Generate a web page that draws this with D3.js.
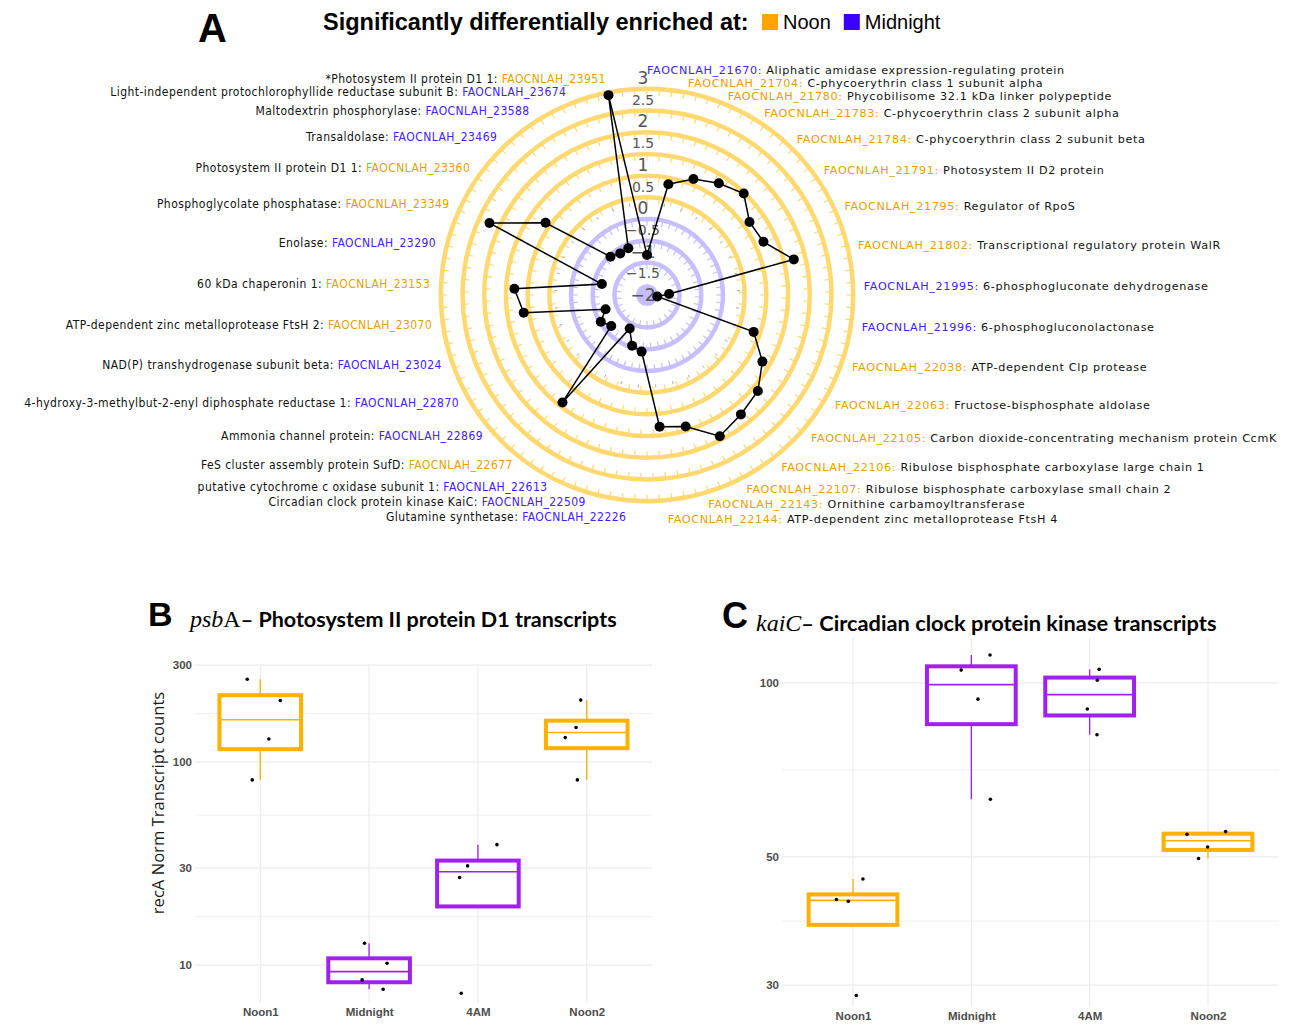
<!DOCTYPE html>
<html>
<head>
<meta charset="utf-8">
<script src="https://cdn.jsdelivr.net/npm/d3@7"></script>
<style>
  body { margin: 0; background: #fff; }
</style>
</head>
<body>
<div id="chart"></div>
<script>
// ---------------- data: panel A (radar) ----------------
const geneIds = ["FAOCNLAH_21670","FAOCNLAH_21704","FAOCNLAH_21780","FAOCNLAH_21783","FAOCNLAH_21784",
  "FAOCNLAH_21791","FAOCNLAH_21795","FAOCNLAH_21802","FAOCNLAH_21995","FAOCNLAH_21996","FAOCNLAH_22038",
  "FAOCNLAH_22063","FAOCNLAH_22105","FAOCNLAH_22106","FAOCNLAH_22107","FAOCNLAH_22143","FAOCNLAH_22144",
  "FAOCNLAH_22226","FAOCNLAH_22509","FAOCNLAH_22613","FAOCNLAH_22677","FAOCNLAH_22869","FAOCNLAH_22870",
  "FAOCNLAH_23024","FAOCNLAH_23070","FAOCNLAH_23153","FAOCNLAH_23290","FAOCNLAH_23349","FAOCNLAH_23360",
  "FAOCNLAH_23469","FAOCNLAH_23588","FAOCNLAH_23674","FAOCNLAH_23951"];
const geneNames = ["Aliphatic amidase expression-regulating protein","C-phycoerythrin class 1 subunit alpha",
  "Phycobilisome 32.1 kDa linker polypeptide","C-phycoerythrin class 2 subunit alpha",
  "C-phycoerythrin class 2 subunit beta","Photosystem II D2 protein","Regulator of RpoS",
  "Transcriptional regulatory protein WalR","6-phosphogluconate dehydrogenase","6-phosphogluconolactonase",
  "ATP-dependent Clp protease","Fructose-bisphosphate aldolase","Carbon dioxide-concentrating mechanism protein CcmK",
  "Ribulose bisphosphate carboxylase large chain 1","Ribulose bisphosphate carboxylase small chain 2",
  "Ornithine carbamoyltransferase","ATP-dependent zinc metalloprotease FtsH 4","Glutamine synthetase",
  "Circadian clock protein kinase KaiC","putative cytochrome c oxidase subunit 1","FeS cluster assembly protein SufD",
  "Ammonia channel protein","4-hydroxy-3-methylbut-2-enyl diphosphate reductase 1","NAD(P) transhydrogenase subunit beta",
  "ATP-dependent zinc metalloprotease FtsH 2","60 kDa chaperonin 1","Enolase","Phosphoglycolate phosphatase",
  "Photosystem II protein D1 1","Transaldolase","Maltodextrin phosphorylase",
  "Light-independent protochlorophyllide reductase subunit B","*Photosystem II protein D1 1"];
const enrichedAt = ["Midnight","Noon","Noon","Noon","Noon","Noon","Noon","Noon","Midnight","Midnight","Noon",
  "Noon","Noon","Noon","Noon","Noon","Noon","Midnight","Midnight","Midnight","Noon","Midnight","Midnight",
  "Midnight","Noon","Noon","Midnight","Noon","Noon","Midnight","Midnight","Midnight","Noon"];
const logChange = [-1.08,0.60,0.88,1.06,1.23,0.90,0.95,1.48,-1.49,-1.76,0.60,1.07,1.38,1.50,1.66,1.16,1.05,
  -0.69,-0.78,-1.13,1.15,-0.91,-0.77,-0.99,0.87,1.06,-0.93,1.99,0.87,-0.78,-0.86,-0.84,2.69];
const radialTicks = [-2,-1.5,-1,-0.5,0,0.5,1,1.5,2,2.5,3];
const ringLevels = [-1.75,-1.25,-0.75,-0.25,0.25,0.75,1.25,1.75,2.25,2.75];
const legendKeys = ["Noon","Midnight"];

// ---------------- data: panels B and C (boxplots) ----------------
const timepoints = ["Noon1","Midnight","4AM","Noon2"];
const phaseOf = ["Noon","Midnight","Midnight","Noon"];
const psbaCounts = [[256,201,130,81.7],[12.8,10.2,8.45,7.6],[39.2,30.8,27,7.26],[202,148,132,81.7]];
const psbaJitter = [[-0.12,0.184,0.079,-0.074],[-0.042,0.165,-0.064,0.129],[0.175,-0.095,-0.168,-0.153],[-0.055,-0.098,-0.197,-0.086]];
const psbaTicks = [10,30,100,300];
const kaicCounts = [[45.8,42.2,41.9,28.8],[111.7,105.2,93.7,62.9],[105.5,101,90.1,81.3],[55.3,54.7,52,49.7]];
const kaicJitter = [[0.084,-0.14,-0.04,0.028],[0.158,-0.086,0.056,0.161],[0.08,0.065,-0.02,0.062],[0.149,-0.177,-0.003,-0.08]];
const kaicTicks = [30,50,100];

// colours
const labelColor = { Noon: "#E69F00", Midnight: "#4120FF" };
const legendColor = { Noon: "#FFA500", Midnight: "#3A00FF" };
const ringColor = { Noon: "#FFD870", Midnight: "#C6BEFF" };
const boxColor = { Noon: "#FFB000", Midnight: "#A020F0" };

const svg = d3.select("#chart").append("svg")
  .attr("width", 1296).attr("height", 1024)
  .style("background", "#fff");

// ---------------- header ----------------
svg.append("text").attr("x", 198).attr("y", 42)
  .style("font-family", "Liberation Sans, Arial, sans-serif").style("font-weight", "bold")
  .style("font-size", "40px").text("A");

svg.append("text").attr("x", 323).attr("y", 30)
  .style("font-family", "'Liberation Sans Narrow', 'Liberation Sans', sans-serif").style("font-weight", "bold")
  .style("font-size", "23.5px").text("Significantly differentially enriched at:");

let lx = 762;
legendKeys.forEach(k => {
  svg.append("rect").attr("x", lx).attr("y", 14).attr("width", 16).attr("height", 16)
    .attr("fill", legendColor[k]);
  const t = svg.append("text").attr("x", lx + 21).attr("y", 29)
    .style("font-family", "'Liberation Sans Narrow', 'Liberation Sans', sans-serif")
    .style("font-size", "20px").text(k);
  lx += 21 + t.node().getComputedTextLength() + 13;
});

// ---------------- panel A: radar ----------------
const cx = 647, cy = 295;
const n = geneIds.length;
const step = 2 * Math.PI / n;
const rScale = d3.scaleLinear().domain([-2, 3]).range([0, 217]);
const radar = svg.append("g").attr("transform", `translate(${cx},${cy})`);

// inner disk and rings
radar.append("circle").attr("r", rScale(ringLevels[0])).attr("fill", ringColor.Midnight);
ringLevels.slice(1).forEach(v => {
  const col = v < 0 ? ringColor.Midnight : ringColor.Noon;
  const r = rScale(v);
  radar.append("circle").attr("r", r).attr("fill", "none")
    .attr("stroke", col).attr("stroke-width", 4.5);
  const k = Math.round(2 * Math.PI * r / (v < 0 ? 8 : 12.5));
  radar.append("g").selectAll("line").data(d3.range(k)).join("line")
    .attr("x1", d => r * Math.sin(d * 2 * Math.PI / k))
    .attr("y1", d => -r * Math.cos(d * 2 * Math.PI / k))
    .attr("x2", d => (r - 6.5) * Math.sin(d * 2 * Math.PI / k))
    .attr("y2", d => -(r - 6.5) * Math.cos(d * 2 * Math.PI / k))
    .attr("stroke", col).attr("stroke-width", 1.2);
});

// small grey marks at zero level
radar.append("g").selectAll("line").data(d3.range(n)).join("line")
  .attr("x1", i => (rScale(0) + 3) * Math.sin(i * step))
  .attr("y1", i => -(rScale(0) + 3) * Math.cos(i * step))
  .attr("x2", i => (rScale(0) + 6) * Math.sin(i * step))
  .attr("y2", i => -(rScale(0) + 6) * Math.cos(i * step))
  .attr("stroke", "#aaa").attr("stroke-width", 1);

// radial value labels
const fmt = d3.format("");
radar.append("g").selectAll("text").data(radialTicks).join("text")
  .attr("x", -4).attr("y", d => -rScale(d))
  .attr("text-anchor", "middle").attr("dominant-baseline", "central")
  .style("font-family", "DejaVu Sans, sans-serif")
  .style("font-size", d => Number.isInteger(d) ? "17px" : "14px")
  .attr("fill", "#555").text(d => fmt(d));

// polygon + points
const radialLine = d3.lineRadial()
  .angle((d, i) => i * step)
  .radius(d => rScale(d))
  .curve(d3.curveLinearClosed);
radar.append("path").attr("d", radialLine(logChange))
  .attr("fill", "none").attr("stroke", "#000").attr("stroke-width", 1.5);
radar.append("g").selectAll("circle").data(logChange).join("circle")
  .attr("cx", (d, i) => rScale(d) * Math.sin(i * step))
  .attr("cy", (d, i) => -rScale(d) * Math.cos(i * step))
  .attr("r", 5).attr("fill", "#000");

// category labels
const topNudge = [-2, 0, 1.5];
geneIds.forEach((id, i) => {
  const a = i * step, s = Math.sin(a), c = Math.cos(a);
  const right = i === 0 || s > 0.001;
  let nudge = (Math.abs(c) > 0.99 ? -7 * Math.sign(c) : 0) + (right ? 0 : -2 - 2 * Math.max(0, c - 0.9) / 0.1);
  if (i < topNudge.length) nudge += topNudge[i];
  const t = radar.append("text")
    .attr("x", 217 * s)
    .attr("y", 1 - 217 * c + nudge)
    .attr("dominant-baseline", "central")
    .attr("text-anchor", right ? "start" : "end")
    .style("font-family", right ? "DejaVu Sans, sans-serif" : "'DejaVu Sans Condensed', 'DejaVu Sans', sans-serif")
    .style("font-stretch", right ? "normal" : "condensed")
    .style("font-size", right ? "11.2px" : "12px")
    .style("letter-spacing", right ? "0.65px" : "0.45px")
    .attr("fill", "#111");
  if (right) {
    t.append("tspan").attr("fill", labelColor[enrichedAt[i]]).text(id + ":");
    t.append("tspan").text(" " + geneNames[i]);
  } else {
    t.append("tspan").text(geneNames[i] + ": ");
    t.append("tspan").attr("fill", labelColor[enrichedAt[i]]).text(id);
  }
});

// ---------------- panels B & C: boxplots ----------------
function boxPanel(opt) {
  const g = svg.append("g");
  const x = d3.scalePoint().domain(timepoints).range([opt.left, opt.right]).padding(0.6);
  const unit = x.step();
  const logs = opt.counts.map(arr => arr.map(Math.log10));
  const all = logs.flat();
  const lo = d3.min(all), hi = d3.max(all), pad = (hi - lo) * 0.05;
  const y = d3.scaleLog().domain([10 ** (lo - pad), 10 ** (hi + pad)]).range([opt.bottom, opt.top]);

  // grid
  const minor = d3.pairs(opt.ticks).map(([a, b]) => Math.sqrt(a * b));
  g.append("g").selectAll("line").data(minor).join("line")
    .attr("x1", opt.left).attr("x2", opt.right)
    .attr("y1", d => y(d)).attr("y2", d => y(d))
    .attr("stroke", "#f0f0f0").attr("stroke-width", 1);
  g.append("g").selectAll("line").data(opt.ticks).join("line")
    .attr("x1", opt.left).attr("x2", opt.right)
    .attr("y1", d => y(d)).attr("y2", d => y(d))
    .attr("stroke", "#ebebeb").attr("stroke-width", 1.2);
  g.append("g").selectAll("line").data(timepoints).join("line")
    .attr("x1", d => x(d)).attr("x2", d => x(d))
    .attr("y1", opt.top).attr("y2", opt.bottom - 6)
    .attr("stroke", "#ebebeb").attr("stroke-width", 1.2);

  // axes (labels only)
  const ya = g.append("g").attr("transform", `translate(${opt.left},0)`)
    .call(d3.axisLeft(y).tickValues(opt.ticks).tickSize(0).tickPadding(3).tickFormat(d3.format("d")));
  const xa = g.append("g").attr("transform", `translate(0,${opt.bottom})`)
    .call(d3.axisBottom(x).tickSize(0).tickPadding(opt.xPad));
  [ya, xa].forEach(a => {
    a.select(".domain").remove();
    a.selectAll("text").attr("fill", "#4d4d4d")
      .style("font-family", "Liberation Sans, Arial, sans-serif")
      .style("font-weight", "bold").style("font-size", "11.5px");
  });

  // boxes
  const half = unit * 0.75 / 2;
  logs.forEach((vals, i) => {
    const sorted = vals.slice().sort(d3.ascending);
    const q1 = d3.quantile(sorted, 0.25), med = d3.quantile(sorted, 0.5), q3 = d3.quantile(sorted, 0.75);
    const iqr = q3 - q1;
    const upper = d3.max(sorted.filter(v => v <= q3 + 1.5 * iqr));
    const lower = d3.min(sorted.filter(v => v >= q1 - 1.5 * iqr));
    const col = boxColor[phaseOf[i]];
    const cxp = x(timepoints[i]);
    g.append("line").attr("x1", cxp).attr("x2", cxp)
      .attr("y1", y(10 ** q3)).attr("y2", y(10 ** upper)).attr("stroke", col).attr("stroke-width", 1.3);
    g.append("line").attr("x1", cxp).attr("x2", cxp)
      .attr("y1", y(10 ** q1)).attr("y2", y(10 ** lower)).attr("stroke", col).attr("stroke-width", 1.3);
    g.append("rect").attr("x", cxp - half).attr("width", half * 2)
      .attr("y", y(10 ** q3)).attr("height", y(10 ** q1) - y(10 ** q3))
      .attr("fill", "#fff").attr("stroke", col).attr("stroke-width", 4);
    g.append("line").attr("x1", cxp - half).attr("x2", cxp + half)
      .attr("y1", y(10 ** med)).attr("y2", y(10 ** med)).attr("stroke", col).attr("stroke-width", 1.6);
    g.append("g").selectAll("circle").data(opt.counts[i]).join("circle")
      .attr("cx", (d, j) => cxp + opt.jitter[i][j] * unit)
      .attr("cy", d => y(d)).attr("r", 1.8).attr("fill", "#000");
  });
  return g;
}

boxPanel({ counts: psbaCounts, jitter: psbaJitter, ticks: psbaTicks,
  left: 195, right: 652, top: 663.5, bottom: 1009, xPad: -1 });
boxPanel({ counts: kaicCounts, jitter: kaicJitter, ticks: kaicTicks,
  left: 782, right: 1279, top: 638, bottom: 1012.5, xPad: -1 });

// panel letters and titles
const titleFont = "Lato, 'Open Sans', sans-serif";
svg.append("text").attr("x", 148).attr("y", 626)
  .style("font-family", "Liberation Sans, Arial, sans-serif").style("font-weight", "bold")
  .style("font-size", "34px").text("B");
const tb = svg.append("text").attr("x", 190).attr("y", 627);
tb.append("tspan").style("font-family", "Liberation Serif, serif").style("font-style", "italic")
  .style("font-size", "24px").text("psb");
tb.append("tspan").style("font-family", "Liberation Serif, serif").style("font-size", "24px").text("A");
tb.append("tspan").style("font-family", titleFont).style("font-weight", "bold")
  .style("font-size", "21.5px").text("– Photosystem II protein D1 transcripts");

svg.append("text").attr("x", 722).attr("y", 628)
  .style("font-family", "Liberation Sans, Arial, sans-serif").style("font-weight", "bold")
  .style("font-size", "36px").text("C");
const tc = svg.append("text").attr("x", 756).attr("y", 631);
tc.append("tspan").style("font-family", "Liberation Serif, serif").style("font-style", "italic")
  .style("font-size", "24px").text("kaiC");
tc.append("tspan").style("font-family", titleFont).style("font-weight", "bold")
  .style("font-size", "21.8px").text("– Circadian clock protein kinase transcripts");

svg.append("text")
  .attr("transform", "translate(164,803) rotate(-90)")
  .attr("text-anchor", "middle")
  .style("font-family", "'Open Sans', sans-serif").style("font-size", "16.6px")
  .attr("fill", "#1a1a1a").text("recA Norm Transcript counts");
</script>
</body>
</html>
